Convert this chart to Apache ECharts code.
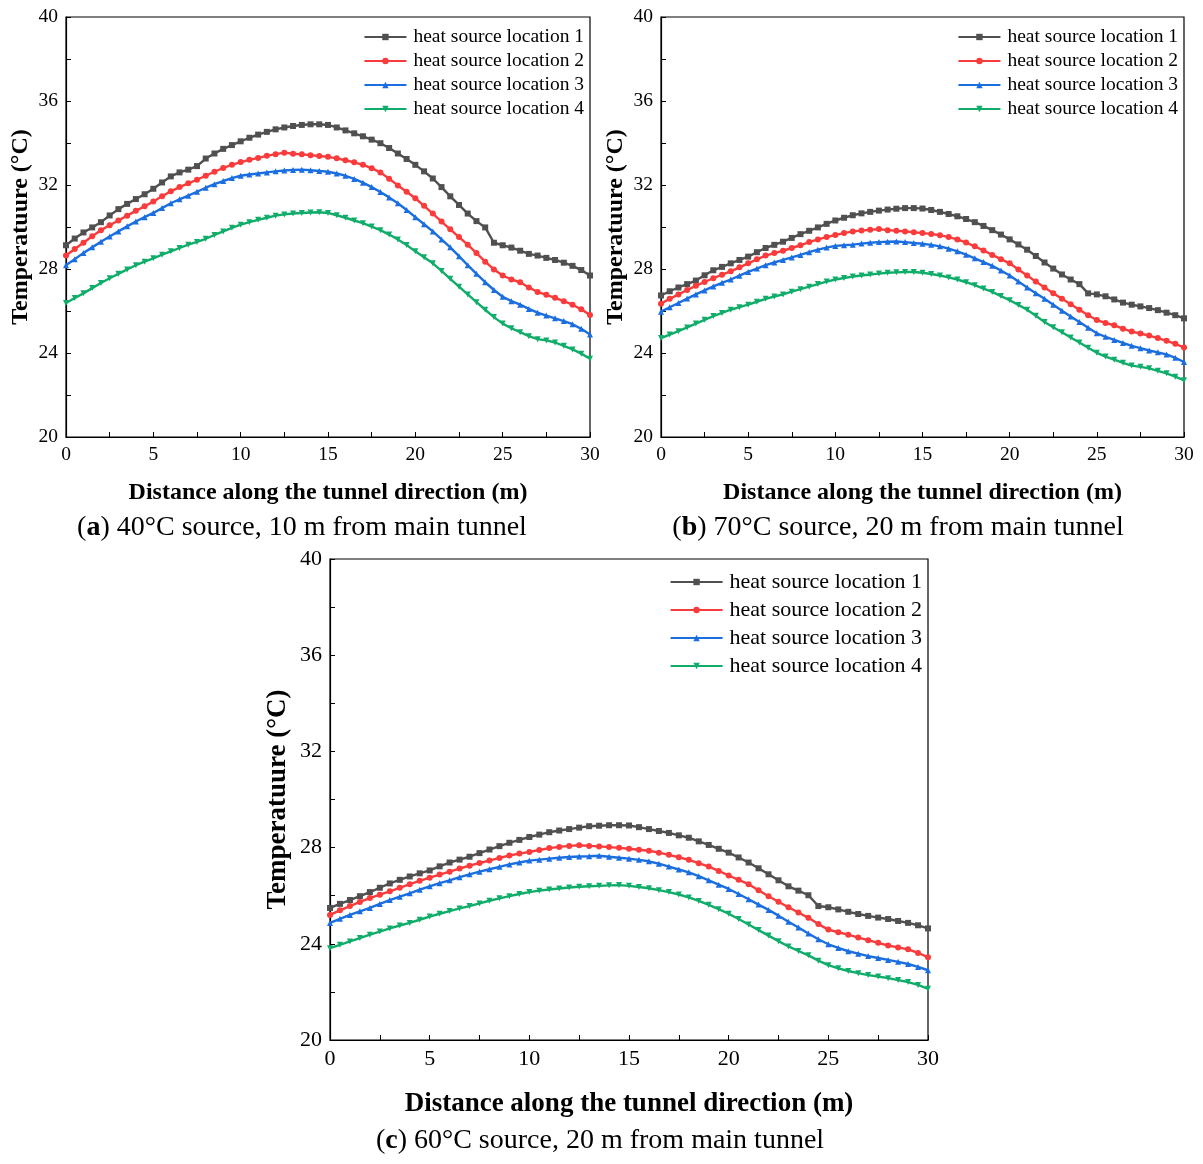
<!DOCTYPE html>
<html>
<head>
<meta charset="utf-8">
<script src="https://cdn.jsdelivr.net/npm/echarts@6/dist/echarts.min.js"></script>
<style>
  html, body { margin: 0; padding: 0; background: #fff; }
  #chart { width: 1203px; height: 1164px; }
</style>
</head>
<body>
<div id="chart"></div>
<script>
// distance along the tunnel (m)
var dist = [0,0.5,1,1.5,2,2.5,3,3.5,4,4.5,5,5.5,6,6.5,7,7.5,8,8.5,9,9.5,10,10.5,11,11.5,12,12.5,13,13.5,14,14.5,
  15,15.5,16,16.5,17,17.5,18,18.5,19,19.5,20,20.5,21,21.5,22,22.5,23,23.5,24,24.5,25,25.5,26,26.5,27,27.5,28,28.5,29,29.5,30];

var seriesNames = ['heat source location 1', 'heat source location 2', 'heat source location 3', 'heat source location 4'];
var xTicks = [0, 5, 10, 15, 20, 25, 30];
var yTicks = [20, 24, 28, 32, 36, 40];

// (a) 40°C source, 10 m from main tunnel
var a_loc1 = [29.13,29.45,29.74,29.98,30.23,30.55,30.85,31.10,31.33,31.56,31.82,32.12,32.41,32.60,32.73,32.90,33.26,33.50,33.72,33.90,
  34.08,34.25,34.40,34.53,34.65,34.74,34.81,34.86,34.89,34.89,34.86,34.74,34.60,34.46,34.32,34.16,33.99,33.76,33.50,33.24,
  32.96,32.65,32.31,31.90,31.46,31.05,30.64,30.28,29.98,29.25,29.13,29.02,28.87,28.72,28.64,28.53,28.43,28.30,28.15,27.95,27.69];
var a_loc2 = [28.64,28.95,29.25,29.56,29.85,30.08,30.31,30.54,30.77,30.99,31.21,31.46,31.70,31.90,32.08,32.25,32.44,32.63,32.81,32.96,
  33.09,33.20,33.29,33.39,33.47,33.54,33.49,33.46,33.42,33.38,33.34,33.27,33.18,33.08,32.96,32.80,32.60,32.30,31.98,31.68,
  31.37,31.01,30.64,30.26,29.89,29.52,29.16,28.76,28.35,27.98,27.69,27.50,27.37,27.12,26.91,26.77,26.63,26.47,26.30,26.08,25.81];
var a_loc3 = [28.18,28.47,28.76,29.03,29.30,29.55,29.79,30.03,30.26,30.47,30.67,30.90,31.13,31.32,31.49,31.68,31.87,32.04,32.19,32.33,
  32.44,32.50,32.55,32.60,32.65,32.69,32.72,32.73,32.70,32.67,32.63,32.55,32.44,32.29,32.11,31.90,31.67,31.41,31.13,30.81,
  30.47,30.13,29.79,29.41,29.03,28.61,28.18,27.77,27.37,27.00,26.68,26.47,26.30,26.10,25.92,25.78,25.65,25.52,25.37,25.15,24.88];
var a_loc4 = [26.38,26.62,26.84,27.09,27.33,27.56,27.77,27.98,28.18,28.35,28.51,28.68,28.84,29.00,29.16,29.29,29.44,29.62,29.79,29.96,
  30.11,30.23,30.34,30.44,30.54,30.60,30.64,30.67,30.69,30.70,30.67,30.56,30.44,30.31,30.18,30.02,29.85,29.64,29.41,29.14,
  28.84,28.56,28.27,27.91,27.53,27.16,26.79,26.42,26.06,25.71,25.40,25.18,24.99,24.80,24.66,24.60,24.50,24.34,24.17,23.97,23.73];

// (b) 70°C source, 20 m from main tunnel
var b_loc1 = [26.74,26.94,27.12,27.28,27.45,27.70,27.94,28.10,28.27,28.43,28.59,28.80,29.00,29.15,29.30,29.48,29.66,29.82,29.98,30.15,
  30.31,30.44,30.56,30.65,30.72,30.78,30.83,30.87,30.90,30.90,30.88,30.81,30.72,30.62,30.51,30.38,30.23,30.05,29.85,29.64,
  29.41,29.17,28.92,28.62,28.31,28.02,27.74,27.50,27.28,26.84,26.79,26.70,26.55,26.40,26.30,26.22,26.14,26.04,25.92,25.80,25.65];
var b_loc2 = [26.35,26.58,26.79,27.00,27.20,27.38,27.56,27.73,27.89,28.08,28.27,28.46,28.64,28.76,28.87,29.00,29.13,29.28,29.41,29.52,
  29.62,29.71,29.79,29.83,29.87,29.90,29.85,29.82,29.79,29.75,29.71,29.67,29.61,29.52,29.41,29.26,29.08,28.88,28.67,28.47,
  28.27,27.98,27.69,27.40,27.12,26.85,26.58,26.32,26.06,25.80,25.57,25.43,25.32,25.16,25.02,24.93,24.83,24.71,24.58,24.44,24.26];
var b_loc3 = [25.97,26.18,26.38,26.59,26.79,26.98,27.17,27.34,27.50,27.68,27.86,28.02,28.18,28.31,28.43,28.55,28.67,28.80,28.92,29.02,
  29.10,29.13,29.16,29.21,29.25,29.28,29.30,29.31,29.28,29.24,29.20,29.15,29.08,28.97,28.84,28.68,28.51,28.33,28.15,27.93,
  27.69,27.41,27.12,26.85,26.58,26.30,26.01,25.74,25.48,25.20,24.94,24.77,24.62,24.48,24.34,24.23,24.12,24.03,23.93,23.77,23.57];
var b_loc4 = [24.71,24.88,25.04,25.22,25.40,25.58,25.76,25.91,26.06,26.18,26.30,26.44,26.58,26.69,26.79,26.92,27.04,27.16,27.28,27.40,
  27.50,27.57,27.64,27.69,27.74,27.78,27.82,27.84,27.86,27.86,27.82,27.76,27.69,27.60,27.50,27.37,27.23,27.07,26.91,26.71,
  26.51,26.29,26.06,25.77,25.48,25.23,24.99,24.74,24.50,24.25,24.01,23.83,23.68,23.53,23.40,23.34,23.27,23.15,23.03,22.87,22.70];

// (c) 60°C source, 20 m from main tunnel
var c_loc1 = [25.49,25.66,25.82,25.98,26.15,26.33,26.51,26.66,26.80,26.93,27.05,27.22,27.38,27.50,27.62,27.77,27.92,28.06,28.20,28.32,
  28.44,28.54,28.64,28.71,28.77,28.83,28.89,28.91,28.93,28.93,28.92,28.85,28.77,28.69,28.61,28.51,28.41,28.26,28.11,27.95,
  27.79,27.59,27.38,27.14,26.89,26.64,26.39,26.21,26.02,25.57,25.52,25.43,25.33,25.24,25.16,25.09,25.03,24.95,24.87,24.77,24.64];
var c_loc2 = [25.20,25.39,25.57,25.74,25.90,26.04,26.18,26.33,26.48,26.62,26.75,26.88,27.00,27.13,27.25,27.36,27.46,27.57,27.67,27.75,
  27.82,27.90,27.98,28.03,28.07,28.10,28.07,28.05,28.02,27.99,27.95,27.91,27.87,27.79,27.70,27.60,27.49,27.35,27.21,27.03,
  26.84,26.66,26.48,26.23,25.98,25.75,25.52,25.30,25.08,24.82,24.59,24.48,24.38,24.26,24.15,24.04,23.93,23.85,23.77,23.62,23.44];
var c_loc3 = [24.87,25.04,25.20,25.35,25.49,25.66,25.82,25.96,26.10,26.25,26.39,26.52,26.64,26.77,26.89,27.00,27.10,27.20,27.30,27.38,
  27.46,27.50,27.54,27.58,27.61,27.63,27.64,27.66,27.62,27.58,27.54,27.49,27.43,27.33,27.21,27.09,26.97,26.81,26.64,26.46,
  26.28,26.07,25.85,25.63,25.41,25.17,24.92,24.68,24.43,24.19,23.98,23.83,23.69,23.59,23.49,23.41,23.33,23.25,23.16,23.04,22.90];
var c_loc4 = [23.82,23.96,24.10,24.24,24.38,24.51,24.64,24.76,24.87,25.00,25.13,25.25,25.36,25.47,25.57,25.68,25.79,25.89,25.98,26.07,
  26.15,26.21,26.26,26.30,26.34,26.37,26.39,26.41,26.43,26.44,26.41,26.36,26.31,26.23,26.15,26.05,25.93,25.78,25.62,25.44,
  25.25,25.03,24.80,24.57,24.34,24.11,23.89,23.70,23.52,23.30,23.11,22.98,22.87,22.78,22.70,22.64,22.57,22.49,22.41,22.29,22.13];

var serif = 'Liberation Serif';

// per-panel layout (pixels)
var panels = [
  { data: [a_loc1, a_loc2, a_loc3, a_loc4], grid: { left: 66, top: 17, width: 524, height: 420 },
    tick: 19.5, title: 24, xGap: 44, yGap: 33, lineW: 42,
    legend: { right: 1203 - 590 + 6, top: 27, itemGap: 4, fontSize: 19.5 } },
  { data: [b_loc1, b_loc2, b_loc3, b_loc4], grid: { left: 661, top: 17, width: 523, height: 420 },
    tick: 19.5, title: 24, xGap: 44, yGap: 33, lineW: 42,
    legend: { right: 1203 - 1184 + 6, top: 27, itemGap: 4, fontSize: 19.5 } },
  { data: [c_loc1, c_loc2, c_loc3, c_loc4], grid: { left: 330, top: 559, width: 598, height: 481 },
    tick: 22, title: 27, xGap: 51, yGap: 38, lineW: 52,
    legend: { right: 1203 - 928 + 6, top: 571, itemGap: 6, fontSize: 22 } }
];

var colors = ['#505050', '#f93b3b', '#1a6ee0', '#10ad6a'];
var symbols = ['rect', 'circle', 'triangle', 'path://M0,0 L10,0 L5,9 Z'];

var grids = [], xAxes = [], yAxes = [], legends = [], series = [];

panels.forEach(function(p, i) {
  grids.push({
    left: p.grid.left, top: p.grid.top, width: p.grid.width, height: p.grid.height,
    show: true, borderColor: '#000', borderWidth: 1.2, backgroundColor: 'transparent'
  });
  xAxes.push({
    gridIndex: i, type: 'value', min: 0, max: 30, interval: 5,
    name: 'Distance along the tunnel direction (m)', nameLocation: 'middle', nameGap: p.xGap,
    nameTextStyle: { fontFamily: serif, fontWeight: 'bold', fontSize: p.title, color: '#000' },
    axisLine: { lineStyle: { color: '#000', width: 1.2 } },
    axisTick: { inside: true, length: 5, lineStyle: { color: '#000' } },
    minorTick: { show: true, splitNumber: 2, length: 5, lineStyle: { color: '#000' } },
    axisLabel: { fontFamily: serif, fontSize: p.tick, color: '#000', margin: 8,
      formatter: function(v) { return xTicks.indexOf(v) >= 0 ? v : ''; } },
    splitLine: { show: false }
  });
  yAxes.push({
    gridIndex: i, type: 'value', min: 20, max: 40, interval: 4,
    name: 'Temperatuure (°C)', nameLocation: 'middle', nameGap: p.yGap,
    nameTextStyle: { fontFamily: serif, fontWeight: 'bold', fontSize: p.title, color: '#000' },
    axisLine: { lineStyle: { color: '#000', width: 1.2 } },
    axisTick: { inside: true, length: 5, lineStyle: { color: '#000' } },
    minorTick: { show: true, splitNumber: 2, length: 5, lineStyle: { color: '#000' } },
    axisLabel: { fontFamily: serif, fontSize: p.tick, color: '#000', margin: 8,
      formatter: function(v) { return yTicks.indexOf(v) >= 0 ? v : ''; } },
    splitLine: { show: false }
  });
  legends.push({
    orient: 'vertical', right: p.legend.right, top: p.legend.top,
    itemWidth: p.lineW, itemHeight: 8, itemGap: p.legend.itemGap, padding: 0,
    data: seriesNames.slice(),
    textStyle: { fontFamily: serif, fontSize: p.legend.fontSize, color: '#000', padding: [0, 0, 0, 2] }
  });
  p.data.forEach(function(vals, k) {
    series.push({
      name: seriesNames[k], type: 'line', xAxisIndex: i, yAxisIndex: i,
      data: dist.map(function(d, j) { return [d, vals[j]]; }),
      symbol: symbols[k], symbolSize: 6, showAllSymbol: true,
      color: colors[k],
      lineStyle: { width: 2.4, color: colors[k] },
      itemStyle: { color: colors[k] },
      animation: false
    });
  });
});

// panel captions, letter in bold
function caption(letter, text, cx, cy) {
  return {
    type: 'text', x: cx, y: cy,
    style: {
      text: '(' + '{b|' + letter + '}' + ') ' + text,
      font: '28px ' + serif, fill: '#000', align: 'center', verticalAlign: 'middle',
      rich: { b: { fontFamily: serif, fontSize: 28, fontWeight: 'bold', fill: '#000' } }
    }
  };
}

var chart = echarts.init(document.getElementById('chart'));
chart.setOption({
  animation: false,
  backgroundColor: '#fff',
  grid: grids,
  xAxis: xAxes,
  yAxis: yAxes,
  legend: legends,
  series: series,
  graphic: [
    caption('a', '40°C source, 10 m from main tunnel', 302, 528),
    caption('b', '70°C source, 20 m from main tunnel', 898, 528),
    caption('c', '60°C source, 20 m from main tunnel', 600, 1141)
  ]
});
</script>
</body>
</html>
